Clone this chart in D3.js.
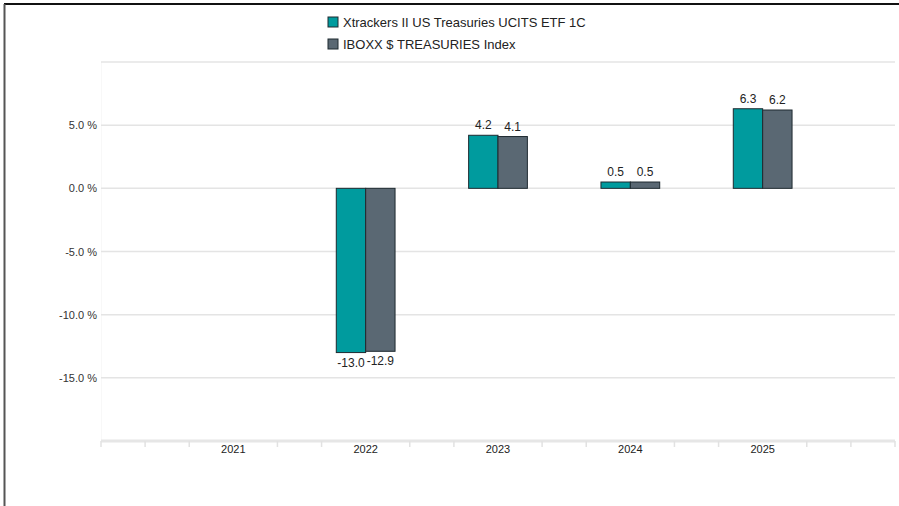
<!DOCTYPE html>
<html>
<head>
<meta charset="utf-8">
<script src="https://cdn.jsdelivr.net/npm/d3@7"></script>
<style>
  body { margin: 0; background: #fff; }
  svg { display: block; font-family: "Liberation Sans", Arial, sans-serif; }
</style>
</head>
<body>
<div id="chart"></div>
<script>
// data
const years = [2021, 2022, 2023, 2024, 2025]
const seriesNames = ["Xtrackers II US Treasuries UCITS ETF 1C", "IBOXX $ TREASURIES Index"]
const fundValues = [null, -13.0, 4.2, 0.5, 6.3]
const indexValues = [null, -12.9, 4.1, 0.5, 6.2]
const yTicks = [10, 5, 0, -5, -10, -15, -20]
const yTickLabels = ["", "5.0 %", "0.0 %", "-5.0 %", "-10.0 %", "-15.0 %", ""]
const colors = ["#009b9e", "#5a6873"]

const width = 899
const height = 506

const svg = d3.select("#chart").append("svg")
              .attr("width", width)
              .attr("height", height)

// frame lines
svg.append("line").attr("x1", 4).attr("x2", width).attr("y1", 4).attr("y2", 4)
   .attr("stroke", "#111").attr("stroke-width", 2)
svg.append("line").attr("x1", 4.5).attr("x2", 4.5).attr("y1", 4).attr("y2", height)
   .attr("stroke", "#555").attr("stroke-width", 2)

// scales
const xScale = d3.scaleLinear().domain([2020, 2026]).range([101, 895])
const yScale = d3.scaleLinear().domain([-20, 10]).range([441, 62])
const barW = xScale(2020 + 0.222) - xScale(2020)

// faint left edge of plot
svg.append("line").attr("x1", 101.5).attr("x2", 101.5).attr("y1", 62).attr("y2", 441)
   .attr("stroke", "#f8f8f8").attr("stroke-width", 1)

// grid
svg.append("g")
   .selectAll("line")
   .data(yTicks.slice(0, -1))
   .join("line")
   .attr("x1", 101).attr("x2", 895)
   .attr("y1", d => yScale(d)).attr("y2", d => yScale(d))
   .attr("stroke", "#e4e4e4").attr("stroke-width", 1.5)

// y labels
svg.append("g")
   .selectAll("text")
   .data(yTicks)
   .join("text")
   .attr("x", 97)
   .attr("y", d => yScale(d) + 4)
   .attr("text-anchor", "end")
   .style("font-size", "11px")
   .style("fill", "#333")
   .text((d, i) => yTickLabels[i])

// x axis line and minor ticks
svg.append("line").attr("x1", 101).attr("x2", 895)
   .attr("y1", yScale(-20)).attr("y2", yScale(-20))
   .attr("stroke", "#e6e6e6").attr("stroke-width", 3)
const minorTicks = d3.range(0, 19).map(i => 2020 + i / 3).filter((d, i) => i % 3 !== 0 || i === 0 || i === 18)
svg.append("g")
   .selectAll("line")
   .data(minorTicks)
   .join("line")
   .attr("x1", d => xScale(d)).attr("x2", d => xScale(d))
   .attr("y1", yScale(-20)).attr("y2", yScale(-20) + 6)
   .attr("stroke", "#e2e2e2").attr("stroke-width", 1.5)

svg.append("g")
   .selectAll("text")
   .data(years)
   .join("text")
   .attr("x", d => xScale(d))
   .attr("y", 453)
   .attr("text-anchor", "middle")
   .style("font-size", "11px")
   .style("fill", "#222")
   .text(d => d)

// bars
const series = [fundValues, indexValues]
series.forEach((vals, s) => {
    const pts = years.map((y, i) => ({year: y, value: vals[i]})).filter(d => d.value !== null)
    const g = svg.append("g")
    g.selectAll("rect")
     .data(pts)
     .join("rect")
     .attr("x", d => xScale(d.year) + (s === 0 ? -barW : 0))
     .attr("y", d => yScale(Math.max(0, d.value)))
     .attr("width", barW)
     .attr("height", d => Math.abs(yScale(d.value) - yScale(0)))
     .attr("fill", colors[s])
     .attr("stroke", "#1e2a30")
     .attr("stroke-width", 1)
    g.selectAll("text")
     .data(pts)
     .join("text")
     .attr("x", d => xScale(d.year) + (s === 0 ? -barW / 2 : barW / 2))
     .attr("y", d => d.value >= 0 ? yScale(d.value) - 6 : yScale(d.value) + 14)
     .attr("text-anchor", "middle")
     .style("font-size", "12px")
     .style("fill", "#222")
     .text(d => d.value.toFixed(1))
})

// legend
const legend = svg.append("g")
                  .selectAll("g")
                  .data(seriesNames)
                  .join("g")
                  .attr("transform", (d, i) => `translate(328,${17 + i * 22})`)
legend.append("rect")
      .attr("width", 10).attr("height", 10)
      .attr("fill", (d, i) => colors[i])
      .attr("stroke", "#1e2a30").attr("stroke-width", 1)
legend.append("text")
      .attr("x", 15).attr("y", 10)
      .style("font-size", "13px")
      .style("fill", "#222")
      .text(d => d)
</script>
</body>
</html>
